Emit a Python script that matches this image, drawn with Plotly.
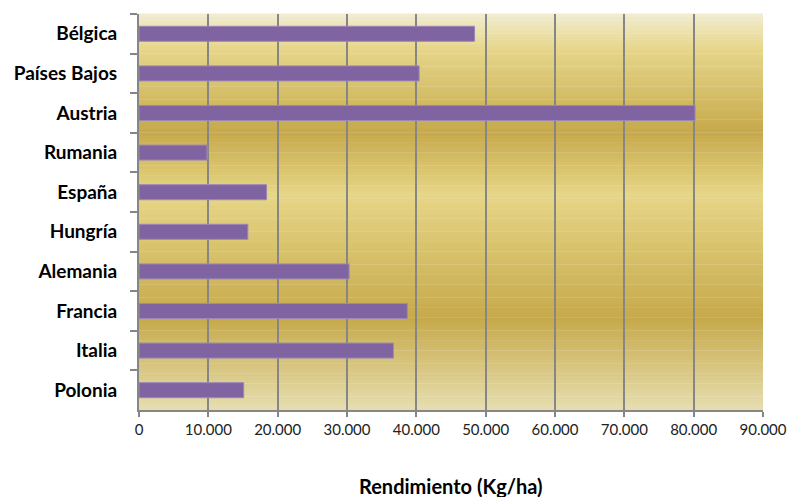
import plotly.graph_objects as go

countries = ["Bélgica", "Países Bajos", "Austria", "Rumania", "España",
             "Hungría", "Alemania", "Francia", "Italia", "Polonia"]
rendimiento = [48400, 40400, 80200, 9800, 18400, 15700, 30300, 38700, 36700, 15100]
x_ticks = [0, 10000, 20000, 30000, 40000, 50000, 60000, 70000, 80000, 90000]
x_tick_labels = ["0", "10.000", "20.000", "30.000", "40.000", "50.000",
                 "60.000", "70.000", "80.000", "90.000"]

FONT = "Lato, 'Open Sans', sans-serif"

fig = go.Figure()
fig.add_trace(go.Bar(
    y=countries, x=rendimiento, orientation="h",
    marker=dict(color="#8064A2", line=dict(color="#9C88B8", width=1)),
    width=0.38, showlegend=False,
))

# vertical gradient background (stripes)
stops = [(0.0, (242, 236, 210)), (0.09, (230, 214, 138)), (0.30, (198, 169, 75)),
         (0.455, (230, 214, 135)), (0.77, (198, 169, 75)), (1.0, (230, 222, 176))]

def col(t):
    for (a, ca), (b, cb) in zip(stops[:-1], stops[1:]):
        if a <= t <= b:
            f = (t - a) / (b - a)
            return "rgb(%d,%d,%d)" % tuple(round(ca[i] + (cb[i] - ca[i]) * f) for i in range(3))
    return "rgb(%d,%d,%d)" % stops[-1][1]

N = 120
shapes = []
for i in range(N):
    t0 = i / N
    t1 = (i + 1) / N
    shapes.append(dict(type="rect", xref="x domain", yref="y domain",
                       x0=0, x1=1, y0=1 - t1, y1=1 - t0 + 0.001,
                       fillcolor=col((t0 + t1) / 2), line=dict(width=0), layer="below"))

fig.update_layout(
    width=787, height=497,
    margin=dict(l=139, r=24, t=14, b=87, autoexpand=False),
    paper_bgcolor="white", plot_bgcolor="rgba(0,0,0,0)",
    shapes=shapes,
    bargap=0.62,
    font=dict(family=FONT, color="black"),
    xaxis=dict(range=[0, 90000], tickvals=x_ticks, ticktext=x_tick_labels,
               showgrid=True, gridcolor="#868686", gridwidth=2,
               showline=True, linecolor="#868686", linewidth=2,
               ticks="outside", ticklen=5, tickcolor="#868686", tickwidth=2,
               tickfont=dict(size=15, family=FONT, color="#222"),
               automargin=False, ticklabeloverflow="allow",
               zeroline=False, layer="below traces"),
    yaxis=dict(autorange="reversed", showline=True, linecolor="#868686", linewidth=2,
               ticks="outside", ticklen=7, tickcolor="#868686", tickwidth=2,
               tickson="boundaries", showgrid=False, automargin=False,
               tickfont=dict(size=19, family=FONT, color="black", weight="bold"),
               ticklabelstandoff=16),
    annotations=[dict(text="<b>Rendimiento (Kg/ha)</b>", xref="x domain", yref="paper",
                      x=0.5, y=0, yshift=-76, showarrow=False, yanchor="middle",
                      font=dict(size=20, family=FONT, color="black"))],
)

fig.write_html("out.html")
